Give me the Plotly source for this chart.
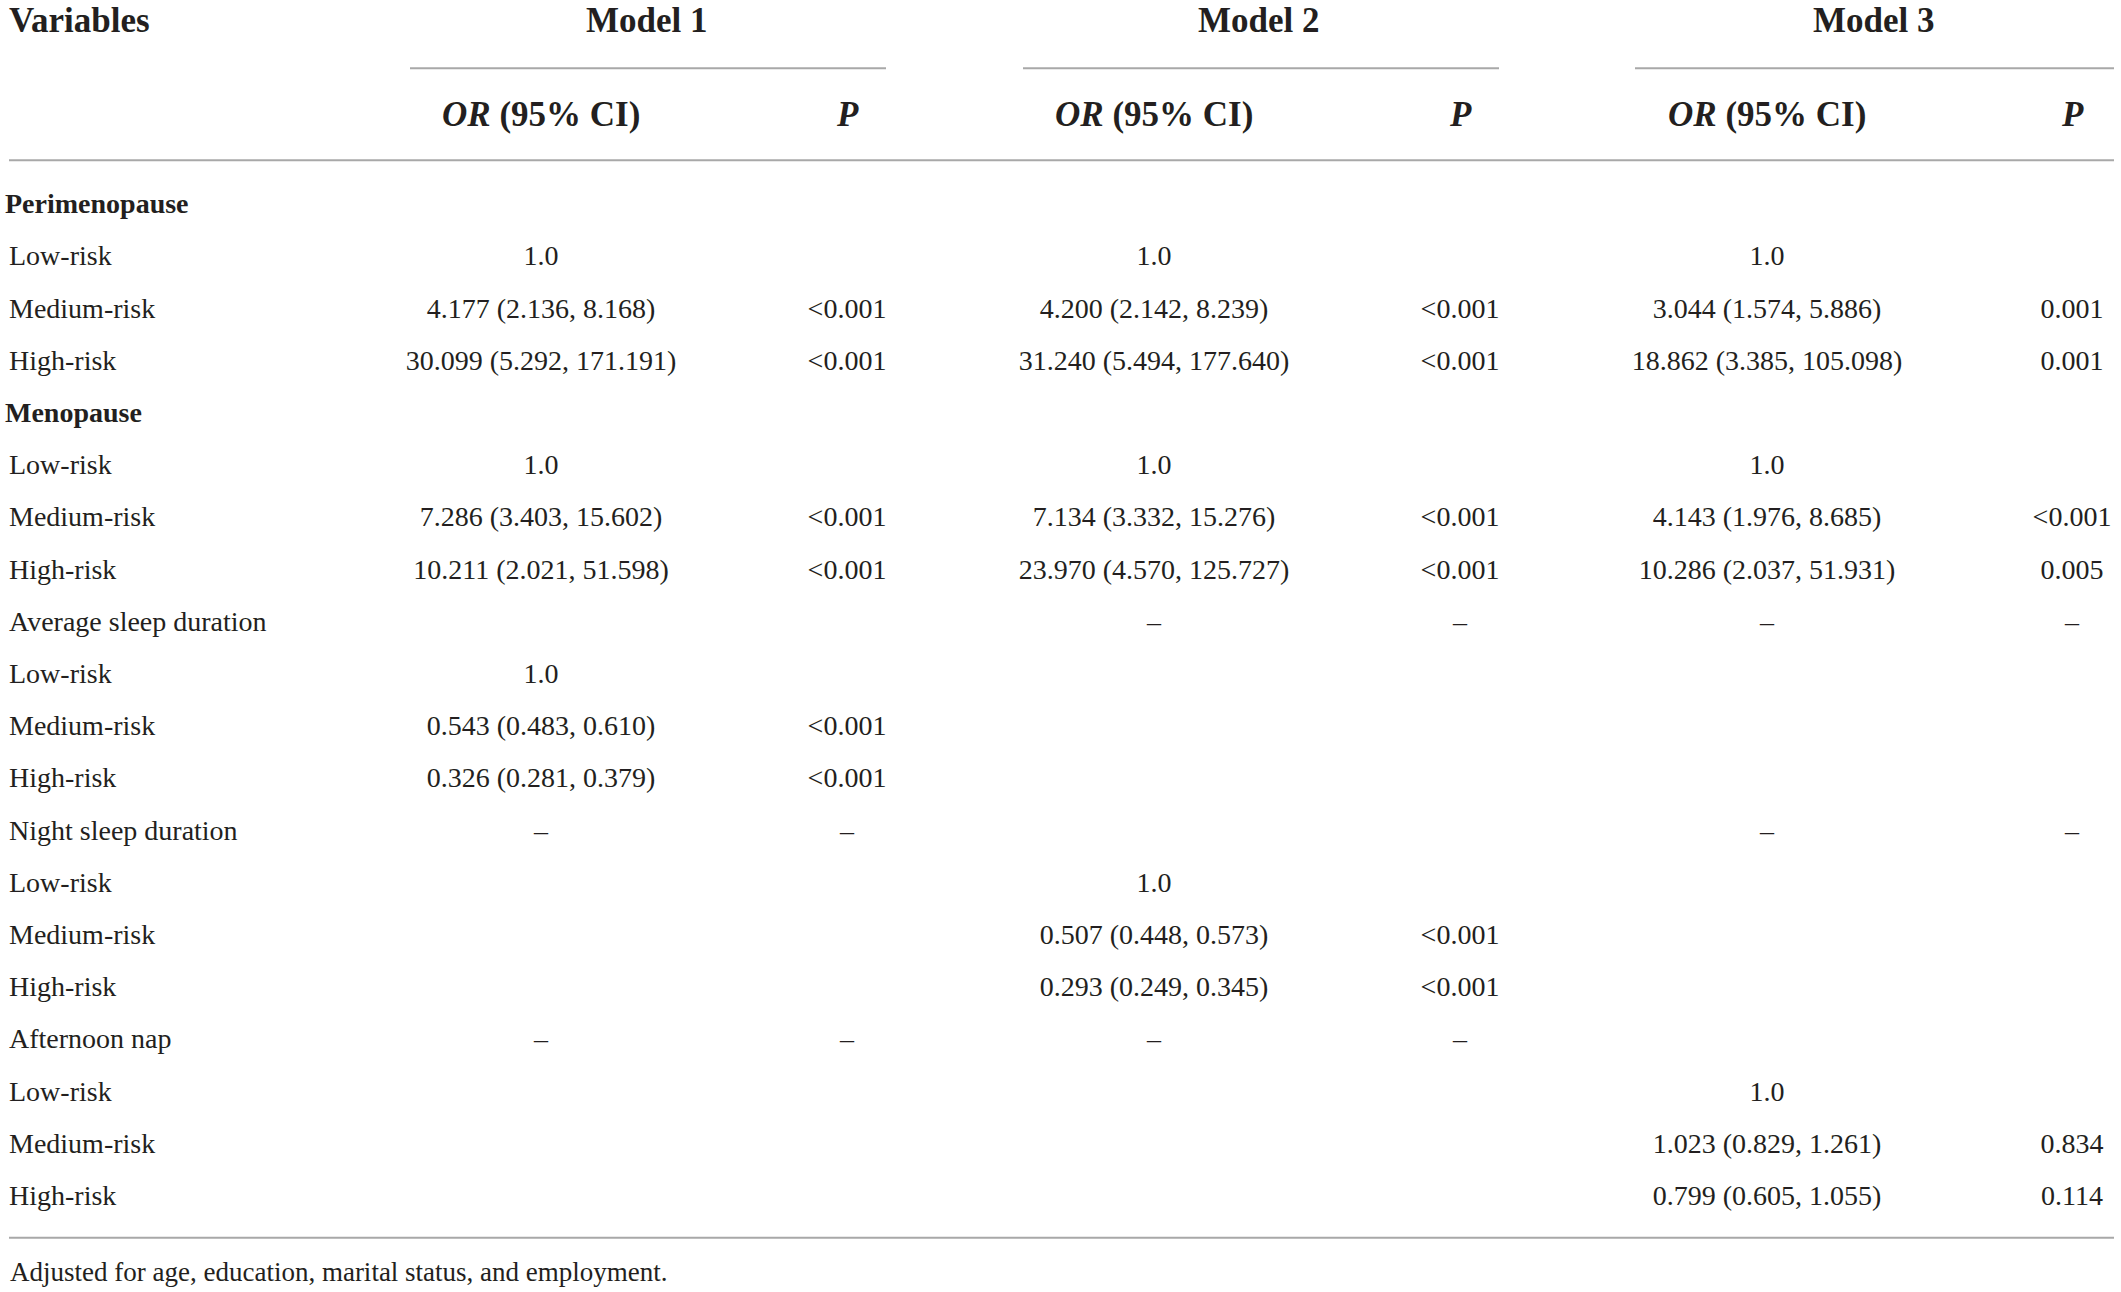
import plotly.graph_objects as go

# table content
row_labels = ["Perimenopause", "Low-risk", "Medium-risk", "High-risk",
              "Menopause", "Low-risk", "Medium-risk", "High-risk",
              "Average sleep duration", "Low-risk", "Medium-risk", "High-risk",
              "Night sleep duration", "Low-risk", "Medium-risk", "High-risk",
              "Afternoon nap", "Low-risk", "Medium-risk", "High-risk"]
bold_rows = ["Perimenopause", "Menopause"]

m1_or = ["", "1.0", "4.177 (2.136, 8.168)", "30.099 (5.292, 171.191)",
         "", "1.0", "7.286 (3.403, 15.602)", "10.211 (2.021, 51.598)",
         "", "1.0", "0.543 (0.483, 0.610)", "0.326 (0.281, 0.379)",
         "–", "", "", "",
         "–", "", "", ""]
m1_p = ["", "", "<0.001", "<0.001",
        "", "", "<0.001", "<0.001",
        "", "", "<0.001", "<0.001",
        "–", "", "", "",
        "–", "", "", ""]
m2_or = ["", "1.0", "4.200 (2.142, 8.239)", "31.240 (5.494, 177.640)",
         "", "1.0", "7.134 (3.332, 15.276)", "23.970 (4.570, 125.727)",
         "–", "", "", "",
         "", "1.0", "0.507 (0.448, 0.573)", "0.293 (0.249, 0.345)",
         "–", "", "", ""]
m2_p = ["", "", "<0.001", "<0.001",
        "", "", "<0.001", "<0.001",
        "–", "", "", "",
        "", "", "<0.001", "<0.001",
        "–", "", "", ""]
m3_or = ["", "1.0", "3.044 (1.574, 5.886)", "18.862 (3.385, 105.098)",
         "", "1.0", "4.143 (1.976, 8.685)", "10.286 (2.037, 51.931)",
         "–", "", "", "",
         "–", "", "", "",
         "", "1.0", "1.023 (0.829, 1.261)", "0.799 (0.605, 1.055)"]
m3_p = ["", "", "0.001", "0.001",
        "", "", "<0.001", "0.005",
        "–", "", "", "",
        "–", "", "", "",
        "", "", "0.834", "0.114"]

model_names = ["Model 1", "Model 2", "Model 3"]
footnote = "Adjusted for age, education, marital status, and employment."

FONT = "Liberation Serif"
TXT = "#231f20"
LINE = "#a8a8a8"

# column centres (pixel-like x scale)
or_x = [541, 1154, 1767]
p_x = [847, 1460, 2072]
model_x = [647, 1259, 1874]
rows = list(range(len(row_labels)))

fig = go.Figure()

labels_fmt = ["<b>%s</b>" % l if l in bold_rows else l for l in row_labels]
label_x = [5 if l in bold_rows else 9 for l in row_labels]
fig.add_trace(go.Scatter(x=label_x, y=rows, mode="text", text=labels_fmt,
                         textposition="middle right", cliponaxis=False,
                         textfont=dict(family=FONT, size=28, color=TXT)))

for ors, ps, ox, px_ in zip([m1_or, m2_or, m3_or], [m1_p, m2_p, m3_p], or_x, p_x):
    fig.add_trace(go.Scatter(x=[ox] * len(ors), y=rows, mode="text", text=ors,
                             textposition="middle center", cliponaxis=False,
                             textfont=dict(family=FONT, size=28, color=TXT)))
    fig.add_trace(go.Scatter(x=[px_] * len(ps), y=rows, mode="text", text=ps,
                             textposition="middle center", cliponaxis=False,
                             textfont=dict(family=FONT, size=28, color=TXT)))

# headers
hdr = dict(family=FONT, size=35, color=TXT)
fig.add_annotation(x=7, y=-3.55, text="<b>Variables</b>", showarrow=False,
                   xanchor="left", font=hdr)
for mx, ox, px_, name in zip(model_x, or_x, p_x, model_names):
    fig.add_annotation(x=mx, y=-3.55, text="<b>%s</b>" % name, showarrow=False, font=hdr)
    fig.add_annotation(x=ox, y=-1.76, text="<b><i>OR</i> (95% CI)</b>", showarrow=False, font=hdr)
    fig.add_annotation(x=px_, y=-1.76, text="<b><i>P</i></b>", showarrow=False, font=hdr)

fig.add_annotation(x=8, y=20.41, text=footnote, showarrow=False, xanchor="left",
                   font=dict(family=FONT, size=27, color=TXT))

# rules
for x0, x1 in [(410, 886), (1023, 1499), (1635, 2114)]:
    fig.add_shape(type="line", x0=x0, x1=x1, y0=-2.64, y1=-2.64,
                  line=dict(color=LINE, width=2))
fig.add_shape(type="line", x0=9, x1=2114, y0=-0.88, y1=-0.88, line=dict(color=LINE, width=2))
fig.add_shape(type="line", x0=9, x1=2114, y0=19.76, y1=19.76, line=dict(color=LINE, width=2))

fig.update_xaxes(range=[0, 2121], visible=False, fixedrange=True)
fig.update_yaxes(range=[20.80, -3.948], visible=False, fixedrange=True)
fig.update_layout(width=2121, height=1292, margin=dict(l=0, r=0, t=0, b=0),
                  plot_bgcolor="white", paper_bgcolor="white", showlegend=False)

# drop the default body margin so the table sits at the page corner
fig.write_html("out.html", config={"displayModeBar": False},
               post_script="document.body.style.margin='0';")
